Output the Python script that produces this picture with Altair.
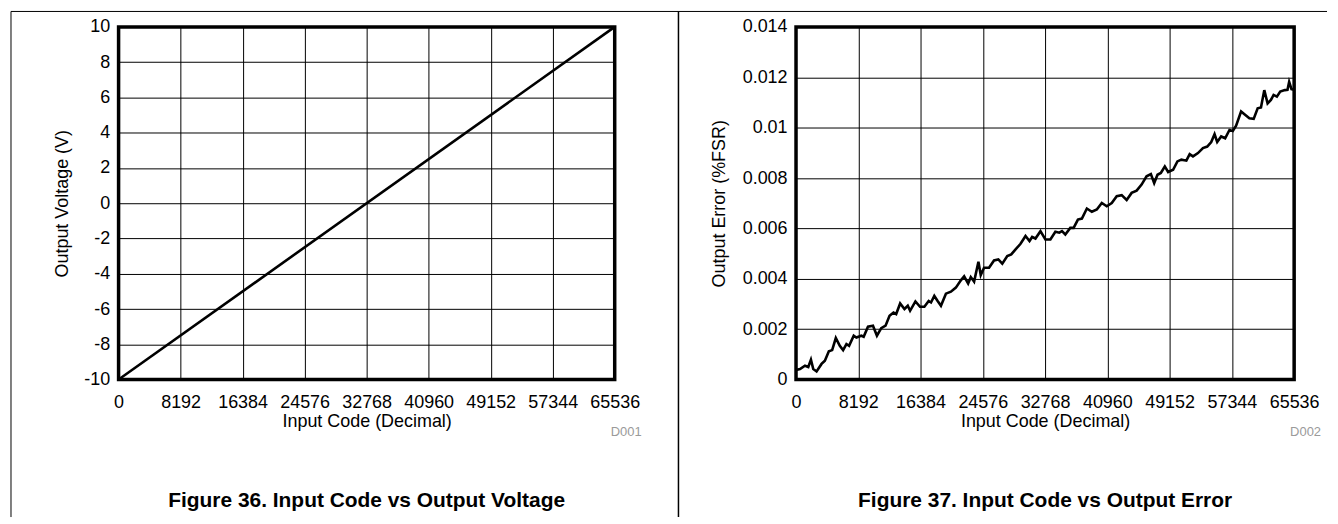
import altair as alt
import pandas as pd

FONT = "Liberation Sans"

# ---------------- data ----------------
x_ticks = [0, 8192, 16384, 24576, 32768, 40960, 49152, 57344, 65536]
volt_ticks = [-10, -8, -6, -4, -2, 0, 2, 4, 6, 8, 10]
err_ticks = [0, 0.002, 0.004, 0.006, 0.008, 0.01, 0.012, 0.014]

code_v = [0, 65536]
volt = [-10, 10]

code_e = [0, 524, 1178, 1614, 1963, 2269, 2705, 3360, 3796, 4320, 4756, 5236,
          5759, 6196, 6632, 6981, 7592, 7941, 8596, 8901, 9468, 10123, 10646,
          11213, 11781, 12304, 12828, 13177, 13700, 14268, 14704, 15010, 15708,
          16319, 16886, 17453, 17759, 18195, 18631, 19068, 19722, 20377, 21031,
          21686, 22122, 22646, 22995, 23431, 23998, 24304, 24740, 25395, 26049,
          26616, 27140, 27794, 28318, 28885, 29539, 30194, 30718, 31067, 31503,
          32158, 32812, 33467, 34121, 34645, 34994, 35430, 36085, 36521, 37088,
          37612, 38266, 38921, 39575, 40230, 40884, 41539, 42193, 42848, 43502,
          44157, 44811, 45466, 46120, 46688, 47124, 47560, 47997, 48520, 48957,
          49611, 50178, 50702, 51356, 51793, 52229, 52884, 53538, 54105, 54629,
          55065, 55414, 55938, 56461, 57029, 57465, 57901, 58556, 59079, 59646,
          60214, 60737, 61173, 61610, 62046, 62482, 62831, 63268, 63704, 64315,
          64664, 64882, 65187, 65536]
err = [0.00038, 0.00042, 0.00055, 0.00050, 0.00079, 0.00042, 0.00032, 0.00062,
       0.00075, 0.00112, 0.00117, 0.00165, 0.00134, 0.00117, 0.00141, 0.00134,
       0.00174, 0.00167, 0.00174, 0.00170, 0.00210, 0.00214, 0.00174, 0.00204,
       0.00214, 0.00253, 0.00266, 0.00260, 0.00302, 0.00280, 0.00293, 0.00273,
       0.00310, 0.00289, 0.00289, 0.00312, 0.00306, 0.00332, 0.00312, 0.00293,
       0.00341, 0.00349, 0.00365, 0.00394, 0.00410, 0.00381, 0.00407, 0.00389,
       0.00468, 0.00415, 0.00444, 0.00444, 0.00473, 0.00477, 0.00460, 0.00490,
       0.00497, 0.00517, 0.00539, 0.00570, 0.00550, 0.00566, 0.00560, 0.00589,
       0.00556, 0.00556, 0.00587, 0.00583, 0.00589, 0.00576, 0.00602, 0.00602,
       0.00635, 0.00639, 0.00679, 0.00666, 0.00675, 0.00701, 0.00688, 0.00701,
       0.00728, 0.00732, 0.00713, 0.00741, 0.00750, 0.00774, 0.00807, 0.00816,
       0.00780, 0.00813, 0.00820, 0.00846, 0.00824, 0.00833, 0.00866, 0.00873,
       0.00869, 0.00895, 0.00886, 0.00899, 0.00919, 0.00925, 0.00943, 0.00974,
       0.00943, 0.00965, 0.00958, 0.00991, 0.00987, 0.01008, 0.01064, 0.01051,
       0.01037, 0.01035, 0.01077, 0.01080, 0.01149, 0.01096, 0.01110, 0.01130,
       0.01123, 0.01143, 0.01149, 0.01150, 0.01182, 0.01153, 0.01150]

x_title = "Input Code (Decimal)"
y_titles = ["Output Voltage (V)", "Output Error (%FSR)"]
tags = ["D001", "D002"]
captions = ["Figure 36. Input Code vs Output Voltage",
            "Figure 37. Input Code vs Output Error"]

H = 354
W_LEFT = 498
W_RIGHT = 500

PLAIN = "'' + datum.value"


def panel(df, yfield, ydomain, yvals, ytitle, title_x, tag, caption, width):
    x_axis = alt.Axis(values=x_ticks, labelExpr=PLAIN, title=x_title, grid=True,
                      gridColor="black", gridWidth=1, domain=False, ticks=False,
                      labelPadding=14, labelFlush=False, labelOverlap=False,
                      labelBound=False, titleY=42, titleBaseline="middle")
    y_axis = alt.Axis(values=yvals, labelExpr=PLAIN, title=ytitle, grid=True,
                      gridColor="black", gridWidth=1, domain=False, ticks=False,
                      labelPadding=9, labelFlush=False, labelOverlap=False,
                      labelBound=False, titleX=title_x, titleY=H / 2,
                      titleBaseline="middle", titleAngle=270)
    line = alt.Chart(df).mark_line(color="black", strokeWidth=2.6).encode(
        x=alt.X("code:Q", scale=alt.Scale(domain=[0, 65536], nice=False, zero=False),
                axis=x_axis),
        y=alt.Y(f"{yfield}:Q", scale=alt.Scale(domain=ydomain, nice=False, zero=False),
                axis=y_axis),
    )
    tag_txt = alt.Chart(pd.DataFrame({"t": [tag]})).mark_text(
        font=FONT, fontSize=13, color="#9a9a9a", align="right", baseline="middle"
    ).encode(text="t:N", x=alt.value(width + 27), y=alt.value(407))
    cap_txt = alt.Chart(pd.DataFrame({"t": [caption]})).mark_text(
        font=FONT, fontSize=21, fontWeight="bold", color="black", align="center",
        baseline="alphabetic"
    ).encode(text="t:N", x=alt.value(width / 2), y=alt.value(482))
    return alt.layer(line, tag_txt, cap_txt).properties(width=width, height=H)


left = panel(pd.DataFrame({"code": code_v, "volt": volt}), "volt", [-10, 10],
             volt_ticks, y_titles[0], -56.5, tags[0], captions[0], W_LEFT)
right = panel(pd.DataFrame({"code": code_e, "err": err}), "err", [0, 0.014],
              err_ticks, y_titles[1], -76.5, tags[1], captions[1], W_RIGHT)

# figure frame (top rule, left rule, divider)
one = pd.DataFrame({"k": [0]})
frame_top = alt.Chart(one).mark_rule(color="black", strokeWidth=1).encode(
    x=alt.value(-108), x2=alt.value(1213), y=alt.value(-15.5))
frame_left = alt.Chart(one).mark_rule(color="black", strokeWidth=1).encode(
    x=alt.value(-108), y=alt.value(-15.5), y2=alt.value(492))
frame_div = alt.Chart(one).mark_rule(color="black", strokeWidth=1.5).encode(
    x=alt.value(562), y=alt.value(-15.5), y2=alt.value(492))

left = alt.layer(left, frame_top, frame_left, frame_div)

chart = alt.hconcat(left, right, spacing=182, bounds="flush").properties(
    padding=0, background="white"
).configure_view(
    stroke="black", strokeWidth=3.5
).configure_axis(
    labelFont=FONT, titleFont=FONT, labelFontSize=18, titleFontSize=18,
    labelColor="black", titleColor="black", titleFontWeight="normal"
)

chart.save("out.html", embed_options={"renderer": "svg", "actions": False})
